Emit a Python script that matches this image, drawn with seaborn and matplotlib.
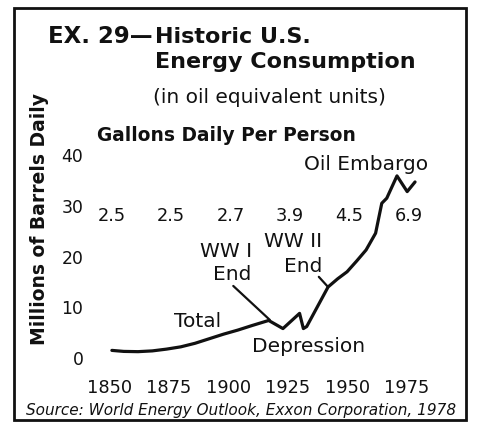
import matplotlib
matplotlib.use("Agg")
import matplotlib.pyplot as plt
import seaborn as sns
from matplotlib.patches import Rectangle

# curve (million barrels daily, oil equivalent)
years = [1851, 1856, 1862, 1868, 1874, 1880, 1886, 1892, 1898, 1904,
         1910, 1917, 1923, 1930, 1931.6, 1933, 1942, 1946, 1950, 1954,
         1958, 1962, 1964.6, 1966.7, 1971, 1975.3, 1978.6]
total = [1.5, 1.3, 1.25, 1.4, 1.75, 2.2, 2.9, 3.8, 4.7, 5.5,
         6.4, 7.4, 5.8, 8.8, 5.8, 6.2, 14.0, 15.6, 17.0, 19.1,
         21.3, 24.6, 30.5, 31.5, 35.9, 32.8, 34.7]

gallon_years = [1850, 1875, 1900, 1925, 1950, 1975]
gallons = ["2.5", "2.5", "2.7", "3.9", "4.5", "6.9"]

x_ticks = [1850, 1875, 1900, 1925, 1950, 1975]
y_ticks = [0, 10, 20, 30, 40]

INK = "#111111"
W, H = 479, 422


def fx(px):
    return px / W


def fy(py):
    return 1 - py / H


def main():
    sns.set_style("white")
    plt.rcParams["font.family"] = ["DejaVu Sans"]
    plt.rcParams["text.color"] = INK

    fig = plt.figure(figsize=(4.79, 4.22), dpi=100)
    ax = fig.add_axes([fx(100), fy(365), 330 / W, 215 / H])

    sns.lineplot(x=years, y=total, ax=ax, color=INK, lw=2.3, sort=False)

    ax.set_xlim(1846.0, 1984.9)
    ax.set_ylim(-1.38, 41.0)
    ax.set_xticks(x_ticks)
    ax.set_yticks(y_ticks)
    ax.tick_params(axis="x", length=0, pad=10, labelsize=12.8, colors=INK)
    ax.tick_params(axis="y", length=0, pad=12, labelsize=12.4, colors=INK)
    for s in ax.spines.values():
        s.set_visible(False)
    ax.set_xlabel("")
    ax.set_ylabel("")
    ax.patch.set_alpha(0)

    # gallons per person row
    for yr, g in zip(gallon_years, gallons):
        ax.text(yr + 1, 27.0, g, ha="center", va="baseline", fontsize=12.8)

    # leader lines
    ax.annotate("", xy=(1917.5, 7.5), xytext=(1902.1, 14.2),
                arrowprops=dict(arrowstyle="-", color=INK, lw=1.6,
                                shrinkA=0, shrinkB=0))
    ax.annotate("", xy=(1942, 14.0), xytext=(1938.1, 16.0),
                arrowprops=dict(arrowstyle="-", color=INK, lw=1.6,
                                shrinkA=0, shrinkB=0))

    fs = 14.5
    ax.text(1887, 6.1, "Total", ha="center", va="baseline", fontsize=fs)
    ax.text(1909.9, 19.9, "WW I", ha="right", va="baseline", fontsize=fs)
    ax.text(1909.9, 15.4, "End", ha="right", va="baseline", fontsize=fs)
    ax.text(1939.4, 21.9, "WW II", ha="right", va="baseline", fontsize=fs)
    ax.text(1939.4, 16.9, "End", ha="right", va="baseline", fontsize=fs)
    ax.text(1933.8, 1.18, "Depression", ha="center", va="baseline", fontsize=fs)
    ax.text(1958.0, 37.0, "Oil Embargo", ha="center", va="baseline", fontsize=fs)

    # titles and labels on the figure
    fig.text(fx(153), fy(43), "EX. 29\u2014", ha="right", va="baseline",
             fontsize=16.5, fontweight="bold")
    fig.text(fx(155), fy(43), "Historic U.S.", ha="left", va="baseline",
             fontsize=16, fontweight="bold")
    fig.text(fx(155), fy(68), "Energy Consumption", ha="left", va="baseline",
             fontsize=16, fontweight="bold")
    fig.text(fx(153), fy(103), "(in oil equivalent units)", ha="left",
             va="baseline", fontsize=14.5)
    fig.text(fx(97), fy(141), "Gallons Daily Per Person", ha="left",
             va="baseline", fontsize=13.4, fontweight="bold")
    fig.text(fx(40), fy(219), "Millions of Barrels Daily", rotation=90,
             ha="center", va="center", fontsize=13.5, fontweight="bold")
    fig.text(fx(241.5), fy(415), "Source: World Energy Outlook, Exxon Corporation, 1978",
             ha="center", va="baseline", fontsize=11, fontstyle="italic")

    # frame around the exhibit
    fig.patches.append(Rectangle((fx(14), fy(420)), 452 / W, 412 / H,
                                 transform=fig.transFigure, fill=False,
                                 edgecolor=INK, lw=2))

    fig.savefig("out.png", dpi=100)


if __name__ == "__main__":
    main()
